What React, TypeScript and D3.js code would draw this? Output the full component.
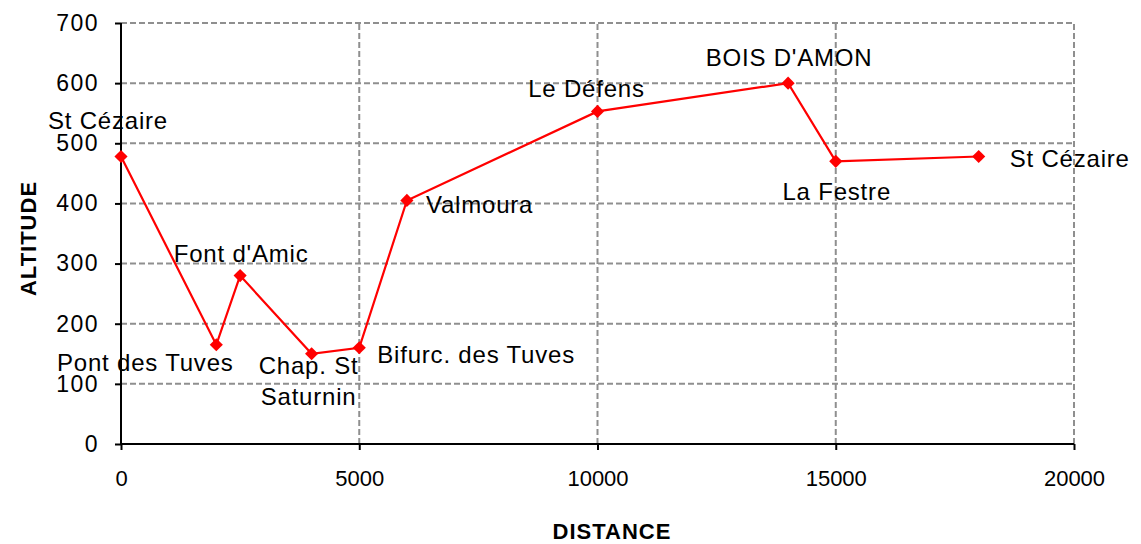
import React, { useRef, useEffect } from 'react';
import * as d3 from 'd3';

// profile points of the walk
const distances = [0, 2000, 2500, 4000, 5000, 6000, 10000, 14000, 15000, 18000];
const altitudes = [478, 165, 280, 150, 160, 405, 553, 600, 470, 478];
const placeNames = [
  'St Cézaire',
  'Pont des Tuves',
  "Font d'Amic",
  'Chap. St\nSaturnin',
  'Bifurc. des Tuves',
  'Valmoura',
  'Le Défens',
  "BOIS  D'AMON",
  'La Festre',
  'St Cézaire',
];
const yTicks = [0, 100, 200, 300, 400, 500, 600, 700];
const xTicks = [0, 5000, 10000, 15000, 20000];

// label placement relative to its point: [anchor, dx, dy]
const labelPlacement: [string, number, number][] = [
  ['middle', -13, -36],
  ['middle', -71, 18],
  ['middle', 1, -22],
  ['middle', -3, 12],
  ['start', 18, 7],
  ['start', 19, 4],
  ['middle', -11, -23],
  ['middle', 1, -26],
  ['middle', 1, 30],
  ['start', 31, 2],
];

const App = () => {
  const svgRef = useRef<SVGSVGElement>(null);

  useEffect(() => {
    const W = 1141;
    const H = 544;
    const margin = { top: 23, right: 67, bottom: 100, left: 121 };

    const svg = d3.select(svgRef.current)
      .attr('width', W)
      .attr('height', H);
    svg.selectAll('*').remove();

    const x = d3.scaleLinear().domain([0, 20000]).range([margin.left, W - margin.right]);
    const y = d3.scaleLinear().domain([0, 700]).range([H - margin.bottom, margin.top]);

    const font = 'Liberation Sans, Arial, sans-serif';
    const grid = '#8f8f8f';

    // horizontal grid
    svg.append('g')
      .selectAll('line')
      .data(yTicks.filter(d => d > 0))
      .enter()
      .append('line')
      .attr('x1', x(0))
      .attr('x2', x(20000))
      .attr('y1', d => y(d))
      .attr('y2', d => y(d))
      .attr('stroke', grid)
      .attr('stroke-width', 2)
      .attr('stroke-dasharray', '6,3');

    // vertical grid
    svg.append('g')
      .selectAll('line')
      .data(xTicks.filter(d => d > 0))
      .enter()
      .append('line')
      .attr('x1', d => x(d))
      .attr('x2', d => x(d))
      .attr('y1', y(0))
      .attr('y2', y(700))
      .attr('stroke', grid)
      .attr('stroke-width', 2)
      .attr('stroke-dasharray', '6,3');

    // axes
    const yAxis = svg.append('g')
      .attr('transform', `translate(${x(0)},0)`)
      .call(d3.axisLeft(y).tickValues(yTicks).tickSize(6).tickPadding(16).tickFormat(d3.format('d')));
    const xAxis = svg.append('g')
      .attr('transform', `translate(0,${y(0)})`)
      .call(d3.axisBottom(x).tickValues(xTicks).tickSize(6).tickPadding(20).tickFormat(d3.format('d')));

    [yAxis, xAxis].forEach(ax => {
      ax.attr('font-size', null).attr('font-family', null);
      ax.select('.domain').attr('stroke', '#000').attr('stroke-width', 2);
      ax.selectAll('.tick line').attr('stroke', '#000').attr('stroke-width', 2);
      ax.selectAll('.tick text')
        .attr('fill', '#000')
        .style('font-family', font)
        .style('font-size', '23px');
    });
    yAxis.selectAll('.tick text').style('letter-spacing', '1.5px');
    xAxis.selectAll('.tick text').style('font-size', '22px');
    yAxis.select('.domain').attr('d', `M0,${y(0)}V${y(700)}`);
    xAxis.select('.domain').attr('d', `M${x(0)},0H${x(20000)}`);

    // profile line
    const pts = distances.map((d, i) => ({ d, a: altitudes[i], name: placeNames[i] }));
    const line = d3.line<{ d: number; a: number }>()
      .x(p => x(p.d))
      .y(p => y(p.a));

    svg.append('path')
      .datum(pts)
      .attr('d', line)
      .attr('fill', 'none')
      .attr('stroke', '#ff0000')
      .attr('stroke-width', 2.2);

    svg.append('g')
      .selectAll('path')
      .data(pts)
      .enter()
      .append('path')
      .attr('d', d3.symbol(d3.symbolDiamond2, 110)())
      .attr('transform', p => `translate(${x(p.d)},${y(p.a)})`)
      .attr('fill', '#ff0000');

    // point labels
    const labels = svg.append('g')
      .selectAll('text')
      .data(pts)
      .enter()
      .append('text')
      .attr('text-anchor', (p, i) => labelPlacement[i][0])
      .attr('x', (p, i) => x(p.d) + labelPlacement[i][1])
      .attr('y', (p, i) => y(p.a) + labelPlacement[i][2])
      .style('font-family', font)
      .style('font-size', '24px')
      .style('letter-spacing', '0.8px')
      .attr('fill', '#000');

    labels.each(function (p) {
      const lines = p.name.split('\n');
      const t = d3.select(this);
      const x0 = t.attr('x');
      lines.forEach((s, k) => {
        t.append('tspan')
          .attr('x', x0)
          .attr('dy', k === 0 ? '0.35em' : '31px')
          .text(s);
      });
    });

    // axis titles
    svg.append('text')
      .attr('transform', `translate(28,${(y(0) + y(700)) / 2 + 5}) rotate(-90)`)
      .attr('text-anchor', 'middle')
      .attr('dy', '0.35em')
      .style('font-family', font)
      .style('font-size', '22px')
      .style('font-weight', 'bold')
      .style('letter-spacing', '1px')
      .text('ALTITUDE');

    svg.append('text')
      .attr('x', 612)
      .attr('y', 531)
      .attr('text-anchor', 'middle')
      .attr('dy', '0.35em')
      .style('font-family', font)
      .style('font-size', '22px')
      .style('font-weight', 'bold')
      .style('letter-spacing', '1px')
      .text('DISTANCE');

    return () => {
      d3.select(svgRef.current).selectAll('*').remove();
    };
  }, []);

  return (
    <div style={{ position: 'absolute', left: 0, top: 0 }}>
      <svg ref={svgRef} style={{ display: 'block' }}></svg>
    </div>
  );
};

export default App;
